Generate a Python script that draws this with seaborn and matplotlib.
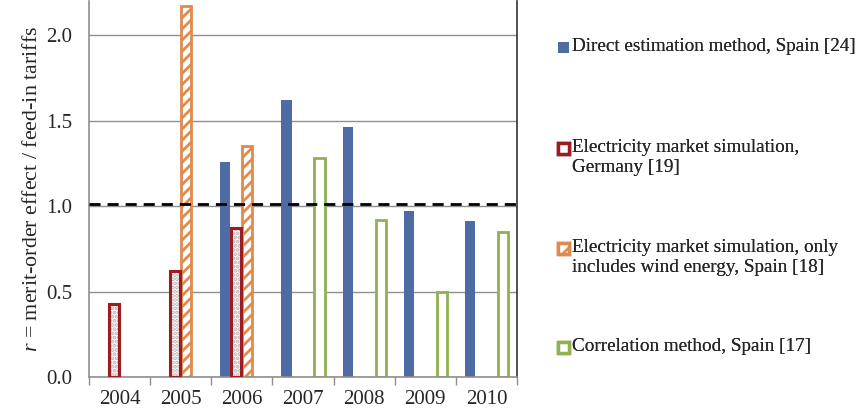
import numpy as np
import pandas as pd
import matplotlib
matplotlib.use("Agg")
import matplotlib.pyplot as plt
from matplotlib.patches import Patch, Rectangle
from matplotlib.legend_handler import HandlerPatch
import seaborn as sns

# values
years = ["2004", "2005", "2006", "2007", "2008", "2009", "2010"]
direct_spain = [np.nan, np.nan, 1.26, 1.62, 1.46, 0.97, 0.91]
sim_germany = [0.43, 0.62, 0.87, np.nan, np.nan, np.nan, np.nan]
sim_wind_spain = [np.nan, 2.17, 1.35, np.nan, np.nan, np.nan, np.nan]
corr_spain = [np.nan, np.nan, np.nan, 1.28, 0.92, 0.50, 0.85]

methods = [
    "Direct estimation method, Spain [24]",
    "Electricity market simulation,\nGermany [19]",
    "Electricity market simulation, only\nincludes wind energy, Spain [18]",
    "Correlation method, Spain [17]",
]
series = [direct_spain, sim_germany, sim_wind_spain, corr_spain]
reference_line = 1.01

blue = "#4f6ba6"
red = "#9b1c22"
orange = "#e08a4e"
green = "#8fb150"
colors = [blue, red, orange, green]

rows = []
for m, vals in zip(methods, series):
    for y, v in zip(years, vals):
        if not np.isnan(v):
            rows.append({"year": y, "r": v, "method": m})
df = pd.DataFrame(rows)

sns.set_style("white")
plt.rcParams["font.family"] = ["Liberation Serif", "DejaVu Serif"]
plt.rcParams["mathtext.fontset"] = "custom"
plt.rcParams["mathtext.it"] = "Liberation Serif:italic"
plt.rcParams["hatch.linewidth"] = 2.0

fig = plt.figure(figsize=(8.61, 4.18), dpi=100)
ax = fig.add_axes([0.1034, 0.098, 0.497, 0.9])

sns.barplot(data=df, x="year", y="r", hue="method", hue_order=methods,
            order=years, palette=colors, width=0.72, gap=0.08,
            legend=False, ax=ax, zorder=2)

# styling of each series
for i, cont in enumerate(ax.containers):
    for bar in cont:
        if i == 0:
            bar.set_facecolor(blue)
            bar.set_edgecolor(blue)
            bar.set_linewidth(0)
        elif i == 1:
            bar.set_facecolor("white")
            bar.set_edgecolor("#bfb0b0")
            bar.set_hatch("....")
            bar.set_linewidth(0)
            edge = Rectangle(bar.get_xy(), bar.get_width(), bar.get_height(),
                             fill=False, edgecolor=red, linewidth=2.2, zorder=3)
            ax.add_patch(edge)
        elif i == 2:
            bar.set_facecolor("white")
            bar.set_edgecolor(orange)
            bar.set_hatch("///")
            bar.set_linewidth(2.0)
        else:
            bar.set_facecolor("white")
            bar.set_edgecolor(green)
            bar.set_linewidth(2.0)

ax.axhline(reference_line, color="black", lw=2, ls=(0, (4, 2.5)), zorder=4)

ax.set_ylim(0, 2.2)
ax.set_xlim(-0.5, len(years) - 0.5)
ax.set_yticks([0, 0.5, 1.0, 1.5, 2.0])
ax.set_yticklabels(["0.0", "0.5", "1.0", "1.5", "2.0"])
ax.yaxis.grid(True, color="#8f8f8f", lw=1)
ax.set_axisbelow(True)
ax.tick_params(axis="y", length=0, labelsize=15, pad=12)

# ticks between categories
ax.set_xticks(np.arange(len(years)))
ax.set_xticklabels(years)
ax.set_xticks(np.arange(len(years) + 1) - 0.5, minor=True)
ax.tick_params(axis="x", which="major", length=0, labelsize=15, pad=9)
ax.tick_params(axis="x", which="minor", length=6, width=1, color="#8f8f8f",
               direction="out", bottom=True)
ax.set_xlabel("")
ax.set_ylabel(r"$\mathit{r}$ = merit-order effect / feed-in tariffs",
              fontsize=15.8, labelpad=3)

ax.spines["top"].set_visible(False)
ax.spines["left"].set_color("#8f8f8f")
ax.spines["bottom"].set_color("#8f8f8f")
ax.spines["right"].set_color("#333333")
for s in ["left", "bottom", "right"]:
    ax.spines[s].set_linewidth(1.2)


# small square handle sitting next to the first line of the label
def square(legend, orig_handle, xdescent, ydescent, width, height, fontsize):
    s = 0.6 * fontsize
    top = height - ydescent
    return Rectangle((-xdescent, top - 0.2 * fontsize - s), s, s)


handles = [
    Patch(facecolor=blue, edgecolor=blue, linewidth=0),
    Patch(facecolor="white", edgecolor=red, linewidth=2.5),
    Patch(facecolor="white", edgecolor=orange, linewidth=2.5, hatch="//"),
    Patch(facecolor="white", edgecolor=green, linewidth=2.5),
]
legend_top = [1 - 38 / 418, 1 - 139 / 418, 1 - 239 / 418, 1 - 338 / 418]
for h, lab, yy in zip(handles, methods, legend_top):
    leg = fig.legend([h], [lab], loc="upper left", bbox_to_anchor=(0.648, yy),
                     frameon=False, fontsize=13.8, handlelength=0.6,
                     handleheight=1.0, handletextpad=0.12, borderpad=0,
                     borderaxespad=0,
                     handler_map={Patch: HandlerPatch(patch_func=square)})
    for col in leg._legend_handle_box.get_children():
        for item in col.get_children():
            item.align = "top"
    fig.add_artist(leg)

fig.savefig("out.png", dpi=100)
